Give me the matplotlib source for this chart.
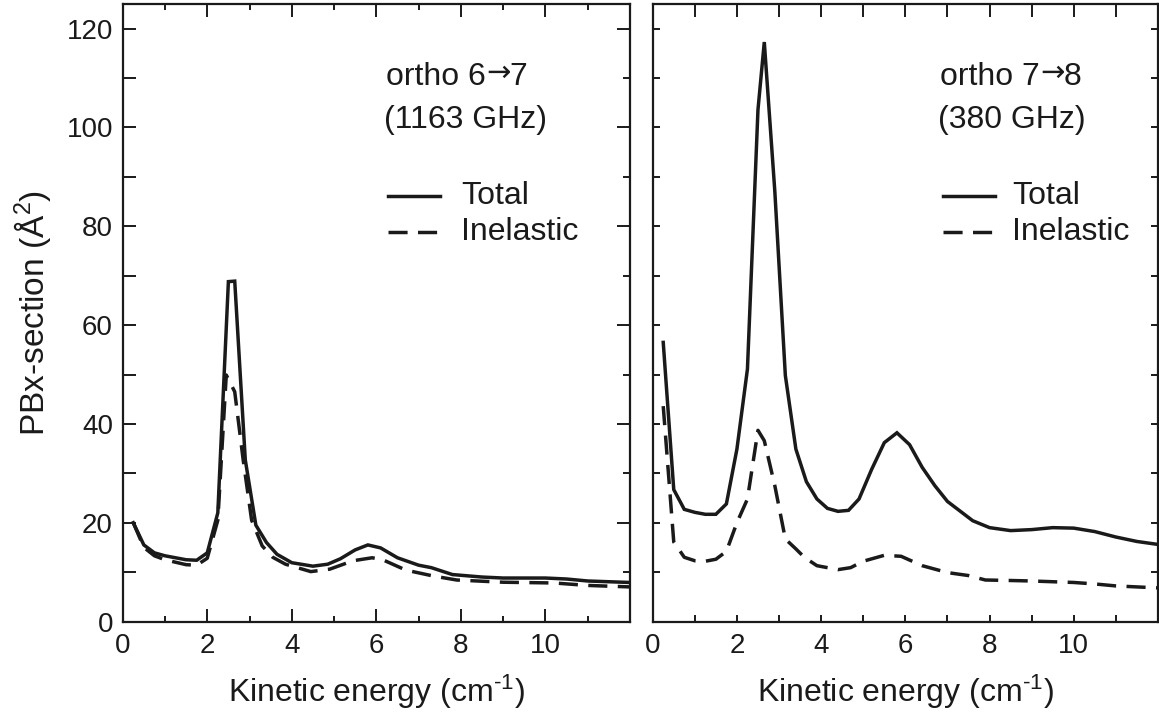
import matplotlib
matplotlib.use("Agg")
import matplotlib.pyplot as plt
from matplotlib.ticker import MultipleLocator, NullFormatter

plt.rcParams['font.family'] = ['Liberation Sans', 'DejaVu Sans']
plt.rcParams['mathtext.fontset'] = 'custom'
plt.rcParams['mathtext.rm'] = 'Liberation Sans'
plt.rcParams['mathtext.it'] = 'Liberation Sans'
plt.rcParams['mathtext.default'] = 'regular'

# ---- data: left panel (ortho 6->7) ----
left_total_x = [0.25, 0.5, 0.75, 1.0, 1.25, 1.5, 1.75, 2.0, 2.25, 2.5, 2.65, 2.9, 3.15,
                3.4, 3.65, 4.0, 4.5, 4.85, 5.15, 5.5, 5.8, 6.1, 6.5, 7.0, 7.3, 7.8,
                8.5, 9.0, 10.0, 10.5, 11.0, 12.0]
left_total_y = [20, 15.5, 13.9, 13.3, 12.9, 12.5, 12.4, 13.9, 22.0, 68.8, 68.9, 32.7, 19.5,
                16.0, 13.6, 11.9, 11.2, 11.6, 12.7, 14.5, 15.5, 14.9, 12.9, 11.4, 10.9, 9.5,
                9.0, 8.8, 8.8, 8.6, 8.2, 7.9]
left_inel_x = [0.25, 0.5, 0.75, 1.0, 1.25, 1.5, 1.75, 2.0, 2.25, 2.45, 2.65, 2.85, 3.05,
               3.3, 3.55, 3.85, 4.45, 4.9, 5.45, 5.9, 6.15, 6.7, 7.35, 7.9, 9.0, 10.2,
               11.0, 12.0]
left_inel_y = [20, 15.0, 13.3, 12.5, 12.0, 11.5, 11.4, 12.8, 20.5, 49.9, 46.5, 32.7, 20.5,
               15.3, 13.0, 11.6, 10.1, 10.6, 12.3, 12.9, 12.5, 10.4, 9.2, 8.4, 7.95, 7.8,
               7.3, 7.0]

# ---- data: right panel (ortho 7->8) ----
right_total_x = [0.25, 0.5, 0.75, 1.0, 1.25, 1.5, 1.75, 2.0, 2.25, 2.5, 2.65, 2.9, 3.15,
                 3.4, 3.65, 3.9, 4.15, 4.4, 4.65, 4.9, 5.2, 5.5, 5.8, 6.1, 6.4, 6.7, 7.0,
                 7.6, 8.0, 8.5, 9.0, 9.5, 10.0, 10.5, 11.0, 11.5, 12.0]
right_total_y = [56.5, 26.7, 22.7, 22.1, 21.7, 21.7, 23.8, 34.9, 51.1, 103.6, 117.3, 87.1,
                 49.8, 34.9, 28.3, 24.8, 22.9, 22.3, 22.5, 24.8, 30.8, 36.2, 38.2, 35.8,
                 31.2, 27.5, 24.3, 20.4, 19.0, 18.4, 18.6, 19.0, 18.9, 18.2, 17.1, 16.2, 15.6]
right_inel_x = [0.25, 0.5, 0.75, 1.0, 1.25, 1.5, 1.75, 2.0, 2.25, 2.5, 2.65, 2.9, 3.15,
                3.4, 3.6, 3.9, 4.4, 4.7, 5.0, 5.5, 5.9, 6.4, 7.0, 7.5, 7.9, 8.5, 9.0,
                10.0, 10.5, 11.0, 12.0]
right_inel_y = [43.6, 16.1, 13.0, 12.3, 12.2, 12.6, 14.2, 20.0, 24.8, 38.7, 36.6, 27.5,
                16.7, 14.7, 13.0, 11.3, 10.5, 10.9, 12.2, 13.4, 13.2, 11.3, 9.9, 9.3, 8.4,
                8.3, 8.2, 7.9, 7.6, 7.2, 6.8]

x_ticks = [0, 2, 4, 6, 8, 10]
y_ticks = [0, 20, 40, 60, 80, 100, 120]

W, H = 1159, 719
fig = plt.figure(figsize=(W / 100, H / 100), dpi=100)
ink = '#1a1a1a'
FS = 20      # tick labels
FT = 23      # annotations / legend / axis labels


def px_axes(l, r, t, b):
    return fig.add_axes([l / W, 1 - b / H, (r - l) / W, (b - t) / H])


axL = px_axes(122.7, 630, 4, 621.5)
axR = px_axes(652.7, 1158, 4, 621.5)

lw = 2.5
dash = (5.5, 3.0)
for ax, tx, ty, ix, iy in [(axL, left_total_x, left_total_y, left_inel_x, left_inel_y),
                           (axR, right_total_x, right_total_y, right_inel_x, right_inel_y)]:
    ax.plot(tx, ty, color=ink, lw=lw, solid_joinstyle='miter')
    ax.plot(ix, iy, color=ink, lw=lw, linestyle=(0, dash))
    ax.set_xlim(0, 12)
    ax.set_ylim(0, 125)
    for s in ax.spines.values():
        s.set_linewidth(1.6)
        s.set_color(ink)


def setup_ticks(ax, left_len_major, left_len_minor, left_minor_step, left_major_step,
                right_major_step, right_minor_step, right_len_major, right_len_minor,
                bot_len_major, bot_len_minor, top_len_major, top_len_minor, ylabels):
    ax.yaxis.set_major_locator(MultipleLocator(left_major_step))
    ax.yaxis.set_minor_locator(MultipleLocator(left_minor_step))
    ax.xaxis.set_major_locator(MultipleLocator(2))
    ax.xaxis.set_minor_locator(MultipleLocator(1))
    ax.tick_params(axis='y', which='major', direction='in', length=left_len_major, width=1.4,
                   left=True, right=False, labelleft=ylabels, labelsize=FS, pad=7, color=ink)
    ax.tick_params(axis='y', which='minor', direction='in', length=left_len_minor, width=1.4,
                   left=True, right=False, color=ink)
    ax.tick_params(axis='x', which='major', direction='in', length=bot_len_major, width=1.4,
                   bottom=True, top=False, labelsize=FS, pad=8, color=ink)
    ax.tick_params(axis='x', which='minor', direction='in', length=bot_len_minor, width=1.4,
                   bottom=True, top=False, color=ink)
    ax.set_xticks(x_ticks)
    ax.set_xticklabels([str(v) for v in x_ticks])
    yt = list(range(0, 121, left_major_step))
    ax.set_yticks(yt)
    if ylabels:
        ax.set_yticklabels([str(v) if v in y_ticks else '' for v in yt])
    else:
        ax.set_yticklabels([])
    sy = ax.secondary_yaxis('right')
    sy.yaxis.set_major_locator(MultipleLocator(right_major_step))
    sy.yaxis.set_minor_locator(MultipleLocator(right_minor_step))
    sy.yaxis.set_major_formatter(NullFormatter())
    sy.tick_params(axis='y', which='major', direction='in', length=right_len_major, width=1.4, color=ink)
    sy.tick_params(axis='y', which='minor', direction='in', length=right_len_minor, width=1.4, color=ink)
    sy.spines['right'].set_visible(False)
    sx = ax.secondary_xaxis('top')
    sx.xaxis.set_major_locator(MultipleLocator(2))
    sx.xaxis.set_minor_locator(MultipleLocator(1))
    sx.xaxis.set_major_formatter(NullFormatter())
    sx.tick_params(axis='x', which='major', direction='in', length=top_len_major, width=1.4, color=ink)
    sx.tick_params(axis='x', which='minor', direction='in', length=top_len_minor, width=1.4, color=ink)
    sx.spines['top'].set_visible(False)


setup_ticks(axL, 9.5, 9.5, 10, 10, 20, 10, 9.5, 5, 9.5, 4.5, 9.5, 4.5, True)
setup_ticks(axR, 5, 5, 10, 10, 10, 10, 5, 5, 5, 5, 9.5, 9.5, False)

axL.set_ylabel('PBx-section (Å$^{2}$)', fontsize=FT + 1, labelpad=10, color=ink)
for ax in (axL, axR):
    ax.set_xlabel('Kinetic energy (cm$^{\u2010 1}$)', fontsize=FT, labelpad=10, color=ink)
    for lab in ax.get_xticklabels() + ax.get_yticklabels():
        lab.set_color(ink)


def title_block(ax, x0, y1, y2, a, b, freq):
    t1 = ax.text(x0, y1, f'ortho {a}', fontsize=FT, color=ink, va='center', ha='left')
    t2 = ax.annotate('→', xy=(1.0, 0.64), xycoords=t1, fontsize=21, color=ink,
                     family='DejaVu Sans',
                     ha='left', va='center', xytext=(0.5, 0), textcoords='offset points')
    ax.annotate(f'{b}', xy=(1.0, 0.5), xycoords=(t2, t1), fontsize=FT, color=ink,
                ha='left', va='center', xytext=(-0.5, 0), textcoords='offset points')
    ax.text(x0 - 0.05, y2, f'({freq} GHz)', fontsize=FT, color=ink, va='center', ha='left')


title_block(axL, 6.22, 110.2, 101.5, 6, 7, 1163)
title_block(axR, 6.82, 110.2, 101.5, 7, 8, 380)


def legend_block(ax, lx0, lx1, tx):
    ax.plot([lx0, lx1], [86.1, 86.1], color=ink, lw=lw)
    ax.plot([lx0, lx1], [78.9, 78.9], color=ink, lw=lw, linestyle=(0, dash))
    ax.text(tx, 86.1, 'Total', fontsize=FT, color=ink, va='center', ha='left')
    ax.text(tx, 78.9, 'Inelastic', fontsize=FT, color=ink, va='center', ha='left')


legend_block(axL, 6.27, 7.5, 8.0)
legend_block(axR, 6.9, 8.13, 8.54)

fig.savefig('out.png', dpi=100)
